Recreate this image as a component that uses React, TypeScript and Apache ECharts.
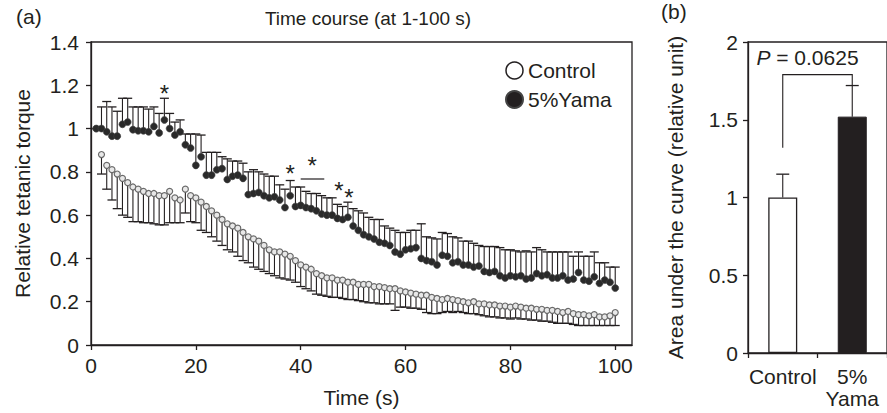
import React, { useEffect, useRef } from "react";
import * as echarts from "echarts";

const timeS: number[] = Array.from({ length: 100 }, (_, i) => i + 1);

const yamaMean = [
  1.0, 1.0, 0.985, 0.965, 0.965, 1.02, 1.03, 0.995, 0.99, 0.99,
  0.985, 1.01, 0.98, 1.04, 1.0, 0.97, 0.985, 0.925, 0.91, 0.83,
  0.87, 0.785, 0.785, 0.81, 0.815, 0.765, 0.78, 0.785, 0.77, 0.695,
  0.7, 0.705, 0.69, 0.68, 0.685, 0.67, 0.635, 0.69, 0.64, 0.645,
  0.635, 0.63, 0.62, 0.605, 0.6, 0.6, 0.585, 0.58, 0.59, 0.55,
  0.53, 0.51, 0.5, 0.49, 0.475, 0.47, 0.46, 0.43, 0.42, 0.44,
  0.445, 0.45, 0.4, 0.39, 0.385, 0.37, 0.415, 0.41, 0.38, 0.385,
  0.37, 0.37, 0.36, 0.365, 0.34, 0.335, 0.34, 0.32, 0.31, 0.32,
  0.315, 0.32, 0.305, 0.31, 0.33, 0.32, 0.325, 0.31, 0.31, 0.32,
  0.3, 0.305, 0.335, 0.3, 0.295, 0.315, 0.285, 0.3, 0.29, 0.263,
];

const yamaUpper = [
  1.0, 1.1, 1.125, 1.1, 1.08, 1.14, 1.14, 1.1, 1.1, 1.1,
  1.09, 1.1, 1.07, 1.14, 1.07, 1.03, 1.04, 0.975, 0.975, 0.975,
  0.97, 0.89, 0.89, 0.89, 0.87, 0.86, 0.85, 0.85, 0.84, 0.8,
  0.81, 0.8, 0.79, 0.78, 0.78, 0.74, 0.72, 0.76, 0.73, 0.73,
  0.71, 0.7, 0.7, 0.69, 0.68, 0.68, 0.65, 0.64, 0.66, 0.63,
  0.62, 0.61, 0.59, 0.58, 0.58, 0.55, 0.54, 0.53, 0.52, 0.52,
  0.53, 0.53, 0.56, 0.5, 0.495, 0.49, 0.52, 0.515, 0.5, 0.495,
  0.48, 0.48, 0.47, 0.46, 0.455, 0.455, 0.455, 0.45, 0.44, 0.44,
  0.435, 0.43, 0.435, 0.43, 0.45, 0.44, 0.43, 0.43, 0.43, 0.43,
  0.43, 0.41, 0.43, 0.41, 0.41, 0.43, 0.38, 0.38, 0.36, 0.36,
];

const controlMean = [
  1.0, 0.88, 0.83, 0.81, 0.79, 0.77, 0.75, 0.73, 0.72, 0.71,
  0.7, 0.7, 0.69, 0.69, 0.71, 0.68, 0.67, 0.72, 0.69, 0.68,
  0.66, 0.64, 0.62, 0.6, 0.58, 0.56, 0.55, 0.54, 0.52, 0.5,
  0.49, 0.48, 0.46, 0.44, 0.43, 0.43, 0.42, 0.41, 0.39, 0.37,
  0.36, 0.35, 0.33, 0.32, 0.31, 0.31, 0.3, 0.3, 0.29, 0.29,
  0.28, 0.28, 0.28, 0.27, 0.27, 0.265, 0.26, 0.26, 0.25, 0.245,
  0.24, 0.235, 0.23, 0.23, 0.22, 0.215, 0.21, 0.215, 0.21, 0.205,
  0.2, 0.195, 0.2, 0.19, 0.19, 0.185, 0.185, 0.18, 0.18, 0.175,
  0.18, 0.175, 0.17, 0.17, 0.165, 0.165, 0.16, 0.16, 0.155, 0.15,
  0.155, 0.145, 0.14, 0.14, 0.135, 0.14, 0.13, 0.13, 0.135, 0.15,
];

const controlLower = [
  1.0, 0.79, 0.72, 0.67, 0.63, 0.6, 0.59, 0.57, 0.57, 0.565,
  0.565, 0.56, 0.555, 0.555, 0.565, 0.565, 0.565, 0.61, 0.57, 0.565,
  0.53, 0.52, 0.5, 0.48, 0.46, 0.44, 0.43, 0.41, 0.39, 0.38,
  0.36, 0.35, 0.34, 0.33, 0.32, 0.31, 0.305, 0.3, 0.29, 0.27,
  0.26, 0.25, 0.235, 0.23, 0.225, 0.22, 0.22, 0.215, 0.21, 0.21,
  0.205, 0.2, 0.195, 0.195, 0.19, 0.19, 0.19, 0.16, 0.175, 0.175,
  0.17, 0.17, 0.165, 0.15, 0.145, 0.145, 0.15, 0.155, 0.15, 0.155,
  0.15, 0.145, 0.145, 0.14, 0.135, 0.13, 0.13, 0.125, 0.125, 0.12,
  0.125, 0.12, 0.12, 0.115, 0.115, 0.11, 0.11, 0.105, 0.1, 0.1,
  0.1, 0.095, 0.09, 0.09, 0.09, 0.09, 0.09, 0.09, 0.09, 0.09,
];

// significance stars (time, value) and bar (from, to, value)
const starMarks = [
  [14, 1.19],
  [38, 0.82],
  [42.2, 0.855],
  [47.3, 0.74],
  [49.2, 0.707],
];
const sigLines = [[40, 44.5, 0.767]];

const xTicksA = [0, 20, 40, 60, 80, 100];

// panel (b)
const groups = ["Control", "5%\nYama"];
const aucMean = [1.0, 1.52];
const aucTop = [1.15, 1.72];
const bracket = [0, 1.32, 1.79, 1, 1.72];
const pText = "= 0.0625";

const FONT = '"Liberation Sans", Arial, Helvetica, sans-serif';
const INK = "#231f20";

export default function App() {
  const ref = useRef<HTMLDivElement>(null);
  useEffect(() => {
    if (!ref.current) return;
    const chart = echarts.init(ref.current, null, { renderer: "svg" });

    const errRender = (cap: number) => (params: any, api: any) => {
      const x = api.value(0);
      const p0 = api.coord([x, api.value(1)]);
      const p1 = api.coord([x, api.value(2)]);
      return {
        type: "group",
        children: [
          { type: "line", shape: { x1: p0[0], y1: p0[1], x2: p1[0], y2: p1[1] }, style: { stroke: INK, lineWidth: 1.1 } },
          { type: "line", shape: { x1: p1[0] - cap, y1: p1[1], x2: p1[0] + cap, y2: p1[1] }, style: { stroke: INK, lineWidth: 1.3 } },
        ],
      };
    };

    const option: any = {
      animation: false,
      backgroundColor: "#fff",
      textStyle: { fontFamily: FONT, color: INK },
      graphic: [
        { type: "text", left: 16, top: 6, style: { text: "(a)", font: `21px ${FONT}`, fill: INK } },
        { type: "text", left: 661, top: 1, style: { text: "(b)", font: `21px ${FONT}`, fill: INK } },
        { type: "text", x: 368, y: 18, style: { text: "Time course (at 1-100 s)", font: `19px ${FONT}`, fill: INK, align: "center", verticalAlign: "middle" } },
      ],
      legend: {
        left: 500,
        top: 55,
        orient: "vertical",
        itemGap: 8,
        itemWidth: 17,
        itemHeight: 17,
        textStyle: { fontSize: 21, fontFamily: FONT, color: INK },
        data: [
          { name: "Control", icon: "circle", itemStyle: { color: "#fff", borderColor: INK, borderWidth: 1.5 } },
          { name: "5%Yama", icon: "circle", itemStyle: { color: INK } },
        ],
      },
      grid: [
        { left: 91, top: 42, width: 541, height: 303, show: true, borderColor: INK, borderWidth: 1.3 },
        { left: 748, top: 42, width: 150, height: 311, show: true, borderColor: INK, borderWidth: 1.3 },
      ],
      xAxis: [
        {
          type: "value",
          gridIndex: 0,
          min: 0,
          max: 103.2,
          name: "Time (s)",
          nameLocation: "middle",
          nameGap: 42,
          nameTextStyle: { fontSize: 21, fontFamily: FONT, color: INK },
          axisLine: { lineStyle: { color: INK, width: 1.3 } },
          axisTick: { show: true, length: 5, customValues: xTicksA, lineStyle: { color: INK, width: 1.3 } },
          axisLabel: { customValues: xTicksA, fontSize: 21, margin: 10, color: INK, fontFamily: FONT },
          splitLine: { show: false },
        },
        {
          type: "category",
          gridIndex: 1,
          data: groups,
          axisLine: { lineStyle: { color: INK, width: 1.3 } },
          axisTick: { show: true, length: 5, lineStyle: { color: INK, width: 1.3 } },
          axisLabel: { interval: 0, hideOverlap: false, fontSize: 21, margin: 12, color: INK, fontFamily: FONT, lineHeight: 22 },
        },
      ],
      yAxis: [
        {
          type: "value",
          gridIndex: 0,
          min: 0,
          max: 1.4,
          interval: 0.2,
          name: "Relative tetanic torque",
          nameLocation: "middle",
          nameGap: 58,
          nameTextStyle: { fontSize: 21, fontFamily: FONT, color: INK },
          axisLine: { show: true, lineStyle: { color: INK, width: 1.3 } },
          axisTick: { show: true, length: 5, lineStyle: { color: INK, width: 1.3 } },
          axisLabel: { fontSize: 21, margin: 12, color: INK, fontFamily: FONT, formatter: (v: number) => String(Math.round(v * 10) / 10) },
          splitLine: { show: false },
        },
        {
          type: "value",
          gridIndex: 1,
          min: 0,
          max: 2,
          interval: 0.5,
          name: "Area under the curve (relative unit)",
          nameLocation: "middle",
          nameGap: 62,
          nameTextStyle: { fontSize: 21, fontFamily: FONT, color: INK },
          axisLine: { show: true, lineStyle: { color: INK, width: 1.3 } },
          axisTick: { show: true, length: 5, lineStyle: { color: INK, width: 1.3 } },
          axisLabel: { fontSize: 21, margin: 10, color: INK, fontFamily: FONT },
          splitLine: { show: false },
        },
      ],
      series: [
        {
          type: "custom",
          name: "yamaErr",
          xAxisIndex: 0,
          yAxisIndex: 0,
          renderItem: errRender(4.5),
          data: timeS.map((t, i) => [t, yamaMean[i], yamaUpper[i]]),
          encode: { x: 0, y: [1, 2] },
          z: 2,
        },
        {
          type: "custom",
          name: "controlErr",
          xAxisIndex: 0,
          yAxisIndex: 0,
          renderItem: errRender(4.5),
          data: timeS.map((t, i) => [t, controlMean[i], controlLower[i]]),
          encode: { x: 0, y: [1, 2] },
          z: 2,
        },
        {
          type: "scatter",
          name: "Control",
          xAxisIndex: 0,
          yAxisIndex: 0,
          symbol: "circle",
          symbolSize: 6,
          itemStyle: { color: "#e8e8e8", borderColor: "#6a6a6a", borderWidth: 1.2, opacity: 1 },
          data: timeS.map((t, i) => [t, controlMean[i]]),
          z: 3,
        },
        {
          type: "scatter",
          name: "5%Yama",
          xAxisIndex: 0,
          yAxisIndex: 0,
          symbol: "circle",
          symbolSize: 7,
          itemStyle: { color: "#2a2a2a", borderColor: "#444", borderWidth: 0.6, opacity: 1 },
          data: timeS.map((t, i) => [t, yamaMean[i]]),
          z: 3,
        },
        {
          type: "custom",
          name: "stars",
          xAxisIndex: 0,
          yAxisIndex: 0,
          renderItem: (params: any, api: any) => {
            const p = api.coord([api.value(0), api.value(1)]);
            return {
              type: "text",
              x: p[0],
              y: p[1] + 6,
              style: { text: "*", font: `24px ${FONT}`, fill: INK, align: "center", verticalAlign: "middle" },
            };
          },
          data: starMarks,
          z: 4,
        },
        {
          type: "custom",
          name: "sigLine",
          xAxisIndex: 0,
          yAxisIndex: 0,
          renderItem: (params: any, api: any) => {
            const a = api.coord([api.value(0), api.value(2)]);
            const b = api.coord([api.value(1), api.value(2)]);
            return { type: "line", shape: { x1: a[0], y1: a[1], x2: b[0], y2: b[1] }, style: { stroke: INK, lineWidth: 1.2 } };
          },
          data: sigLines,
          z: 4,
        },
        {
          type: "bar",
          xAxisIndex: 1,
          yAxisIndex: 1,
          barWidth: 29,
          data: [
            { value: aucMean[0], itemStyle: { color: "#fff", borderColor: INK, borderWidth: 1.3 } },
            { value: aucMean[1], itemStyle: { color: INK, borderColor: INK, borderWidth: 1 } },
          ],
          z: 2,
        },
        {
          type: "custom",
          xAxisIndex: 1,
          yAxisIndex: 1,
          renderItem: errRender(6.5),
          data: aucMean.map((m, i) => [i, m, aucTop[i]]),
          encode: { x: 0, y: [1, 2] },
          z: 3,
        },
        {
          type: "custom",
          xAxisIndex: 1,
          yAxisIndex: 1,
          renderItem: (params: any, api: any) => {
            const p1 = api.coord([api.value(0), api.value(1)]);
            const p2 = api.coord([api.value(0), api.value(2)]);
            const p3 = api.coord([api.value(3), api.value(2)]);
            const p4 = api.coord([api.value(3), api.value(4)]);
            return {
              type: "group",
              children: [
                {
                  type: "polyline",
                  shape: { points: [p1, p2, p3, p4] },
                  style: { stroke: INK, lineWidth: 1.1, fill: null },
                },
                {
                  type: "text",
                  x: (p2[0] + p3[0]) / 2 - 10,
                  y: p2[1] - 17,
                  style: {
                    text: "{it|P} " + pText,
                    font: `21px ${FONT}`,
                    fill: INK,
                    align: "center",
                    verticalAlign: "middle",
                    rich: { it: { fontStyle: "italic", fontSize: 21, fontFamily: FONT, fill: INK } },
                  },
                },
              ],
            };
          },
          data: [bracket],
          z: 3,
        },
      ],
    };
    chart.setOption(option);
    return () => chart.dispose();
  }, []);
  return <div ref={ref} style={{ width: 887, height: 413, position: "absolute", left: 0, top: 0 }} />;
}
